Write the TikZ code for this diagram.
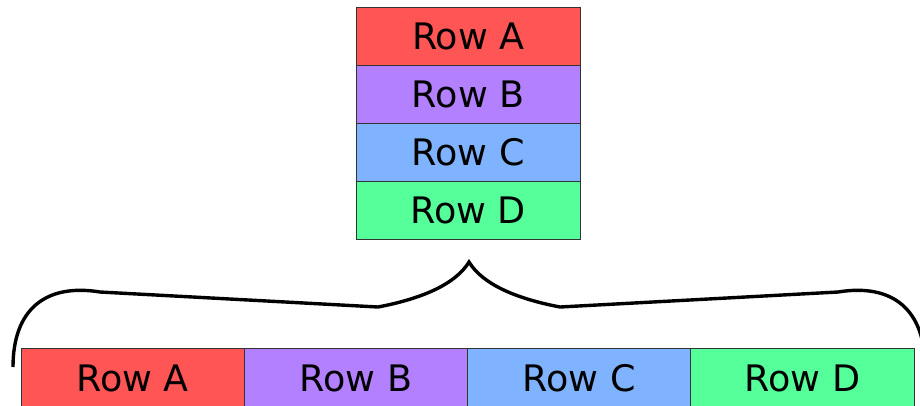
\documentclass[tikz,border=0pt]{standalone}
\usepackage{fontspec}
\setmainfont{DejaVu Sans}
\definecolor{rowred}{HTML}{FF5555}
\definecolor{rowpurple}{HTML}{B380FF}
\definecolor{rowblue}{HTML}{80B3FF}
\definecolor{rowgreen}{HTML}{55FF99}
\definecolor{rowborder}{HTML}{333333}
\begin{document}
\begin{tikzpicture}[x=1pt,y=-1pt,
  cell/.style={draw=rowborder, line width=1pt, inner sep=0pt, outer sep=0pt,
    minimum height=58.2pt, font=\fontsize{36.5}{42}\selectfont},
  topcell/.style={cell, minimum width=223.5pt},
  botcell/.style={cell, minimum width=223.3pt},
  bracepath/.style={draw=black, line width=3.4pt, line join=miter}]
\useasboundingbox (0,0) rectangle (920,405);
\clip (0,0) rectangle (920,405);
% top stack
\node[topcell, fill=rowred]    (ta) at (468.25,36.1)  {Row A};
\node[topcell, fill=rowpurple] (tb) at (468.25,94.3)  {Row B};
\node[topcell, fill=rowblue]   (tc) at (468.25,152.5) {Row C};
\node[topcell, fill=rowgreen]  (td) at (468.25,210.7) {Row D};
% bottom row
\node[botcell, fill=rowred]    (ba) at (132.65,378)  {Row A};
\node[botcell, fill=rowpurple] (bb) at (355.95,378) {Row B};
\node[botcell, fill=rowblue]   (bc) at (579.25,378) {Row C};
\node[botcell, fill=rowgreen]  (bd) at (802.55,378) {Row D};
% brace
\coordinate (tip) at (469,262);
\draw[bracepath] (13,367) .. controls (13,310) and (45,283) .. (100,292)
  -- (378,307) .. controls (420,299) and (455,285) .. (tip)
  .. controls (483,285) and (518,299) .. (560,307)
  -- (838,292) .. controls (893,283) and (925,310) .. (925,367);
\end{tikzpicture}
\end{document}
